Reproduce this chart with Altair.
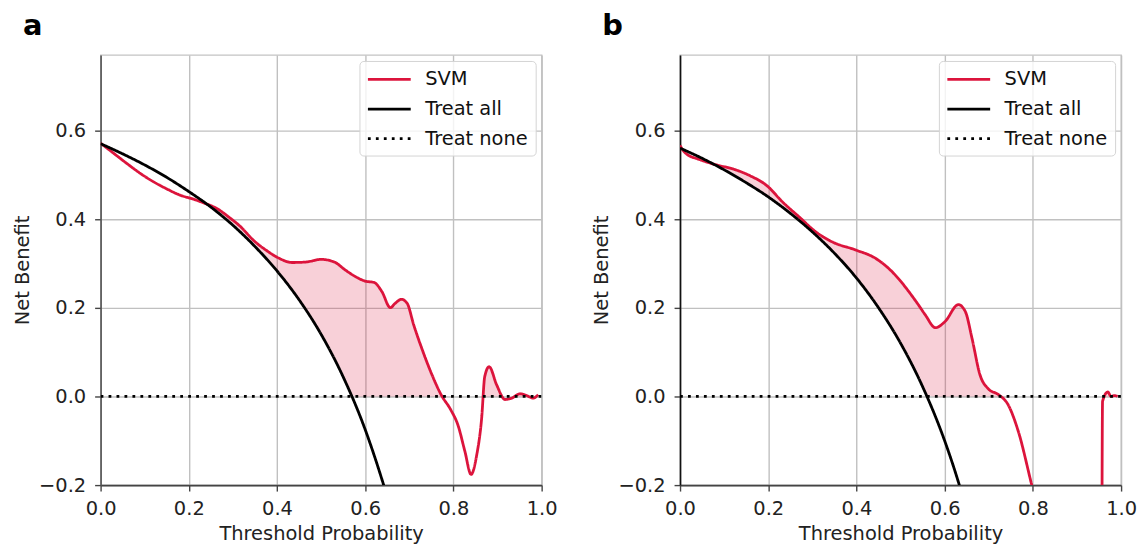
import altair as alt
import numpy as np
import pandas as pd

FONT = "DejaVu Sans"

# ---------------- Panel a ----------------
a_svm_t = [0.0, 0.03, 0.06, 0.09, 0.12, 0.15, 0.18, 0.21, 0.235, 0.265, 0.29, 0.315,
           0.35, 0.375, 0.40, 0.435, 0.465, 0.50, 0.53, 0.555, 0.578, 0.60, 0.62,
           0.638, 0.657, 0.668, 0.682, 0.695, 0.71, 0.728, 0.75, 0.772, 0.795, 0.81,
           0.826, 0.84, 0.853, 0.864, 0.871, 0.881, 0.898, 0.917, 0.932, 0.951,
           0.966, 0.981, 0.992]
a_svm_v = [0.571, 0.548, 0.525, 0.503, 0.484, 0.468, 0.454, 0.445, 0.436, 0.423, 0.405,
           0.385, 0.349, 0.330, 0.314, 0.302, 0.303, 0.309, 0.303, 0.285, 0.270, 0.260,
           0.257, 0.236, 0.200, 0.210, 0.219, 0.210, 0.161, 0.109, 0.052, 0.004,
           -0.032, -0.064, -0.124, -0.176, -0.131, -0.049, 0.045, 0.067, 0.026,
           -0.007, -0.004, 0.006, 0.002, -0.004, 0.004]
a_all_t = [0.0, 0.05, 0.1, 0.15, 0.2, 0.25, 0.3, 0.35, 0.4, 0.45, 0.5, 0.55, 0.6,
           0.62, 0.64, 0.66]
a_all_v = [0.570, 0.547, 0.522, 0.494, 0.462, 0.427, 0.386, 0.338, 0.283, 0.218,
           0.140, 0.044, -0.075, -0.132, -0.194, -0.26]

# ---------------- Panel b ----------------
b_svm_t = [0.0, 0.012, 0.045, 0.083, 0.12, 0.158, 0.196, 0.233, 0.271, 0.308, 0.346,
           0.399, 0.444, 0.481, 0.50, 0.519, 0.538, 0.556, 0.579, 0.601, 0.631, 0.647,
           0.662, 0.68, 0.699, 0.722, 0.744, 0.767, 0.797, 0.82, 0.86, 0.954, 0.958,
           0.97, 0.977, 0.985, 0.992]
b_svm_v = [0.566, 0.549, 0.534, 0.522, 0.513, 0.498, 0.476, 0.438, 0.404, 0.371,
           0.348, 0.330, 0.311, 0.281, 0.260, 0.236, 0.210, 0.184, 0.155, 0.169,
           0.207, 0.191, 0.131, 0.049, 0.017, 0.004, -0.019, -0.079, -0.198, -0.29,
           -1.0, -1.0, -0.011, 0.010, 0.0, 0.002, 0.0]
b_all_t = [0.0, 0.05, 0.1, 0.15, 0.2, 0.25, 0.3, 0.35, 0.4, 0.45, 0.5, 0.55, 0.6,
           0.62, 0.64]
b_all_v = [0.560, 0.537, 0.511, 0.482, 0.450, 0.413, 0.371, 0.323, 0.267, 0.200,
           0.120, 0.022, -0.100, -0.158, -0.222]

none_t = [0.0, 1.0]
none_v = [0.0, 0.0]

series_names = ["SVM", "Treat all", "Treat none"]
series_colors = ["#DC143C", "#000000", "#000000"]
series_dashes = [[1, 0], [1, 0], [2.8, 5.2]]

x_ticks = [0.0, 0.2, 0.4, 0.6, 0.8, 1.0]
y_ticks = [-0.2, 0.0, 0.2, 0.4, 0.6]
x_domain = [0.0, 1.0]
y_domain = [-0.2, 0.77]

W, H = 443, 432


def panel(label, svm_t, svm_v, all_t, all_v, left_axis_color):
    lines = pd.DataFrame({
        "t": svm_t + all_t + none_t,
        "v": svm_v + all_v + none_v,
        "series": (["SVM"] * len(svm_t) + ["Treat all"] * len(all_t)
                   + ["Treat none"] * len(none_t)),
    })
    st = np.array(svm_t)
    sv = np.array(svm_v)
    lower = np.maximum(np.interp(st, all_t, all_v), 0.0)
    upper = np.maximum(sv, lower)
    band = pd.DataFrame({"t": st, "lo": lower, "hi": upper})

    xs = alt.Scale(domain=x_domain, nice=False, zero=False)
    ys = alt.Scale(domain=y_domain, nice=False, zero=False)
    xaxis = alt.Axis(values=x_ticks, format=".1f", title="Threshold Probability",
                     domainColor="#444444", tickColor="#444444", labelFlush=False)
    yaxis = alt.Axis(values=y_ticks, format=".1f", title="Net Benefit",
                     domainColor=left_axis_color, tickColor="#444444", labelFlush=False)

    area = alt.Chart(band).mark_area(
        color="#DC143C", opacity=0.2, interpolate="monotone", clip=True
    ).encode(
        x=alt.X("t:Q", scale=xs, axis=xaxis),
        y=alt.Y("hi:Q", scale=ys, axis=yaxis),
        y2="lo:Q",
    )

    leg = alt.Legend(
        title=None, orient="top-right", offset=6,
        symbolType="M-1,0H3.3", symbolSize=400, symbolStrokeWidth=2.8,
        labelFontSize=19.5, labelFont=FONT, labelColor="#111111",
        labelOffset=36, rowPadding=8.8, padding=7, cornerRadius=4,
        strokeColor="#d4d4d4", fillColor="rgba(255,255,255,0.8)",
    )
    line = alt.Chart(lines).mark_line(
        strokeWidth=2.8, interpolate="monotone", clip=True, strokeCap="butt"
    ).encode(
        x=alt.X("t:Q", scale=xs),
        y=alt.Y("v:Q", scale=ys),
        color=alt.Color("series:N", scale=alt.Scale(domain=series_names,
                                                     range=series_colors),
                        legend=leg, sort=series_names),
        strokeDash=alt.StrokeDash("series:N",
                                  scale=alt.Scale(domain=series_names,
                                                  range=series_dashes),
                                  legend=leg, sort=series_names),
    )

    return alt.layer(area, line).properties(
        width=W, height=H,
        title=alt.TitleParams(label, anchor="start", frame="group", fontSize=29,
                              fontWeight="bold", font=FONT, color="#000000",
                              dx=-78, offset=-9, baseline="alphabetic"),
    )


pa = panel("a", a_svm_t, a_svm_v, a_all_t, a_all_v, "#555555")
pb = panel("b", b_svm_t, b_svm_v, b_all_t, b_all_v, "#111111")

chart = alt.hconcat(pa, pb, spacing=139, bounds="flush").resolve_legend(
    color="independent", strokeDash="independent"
).resolve_scale(color="independent", strokeDash="independent").properties(
    padding={"left": 3, "top": 2, "right": 2, "bottom": 5}
).configure_view(
    stroke="#c4c4c4", strokeWidth=1.4
).configure_axis(
    labelFont=FONT, titleFont=FONT, labelFontSize=19.5, titleFontSize=19.5,
    labelColor="#222222", titleColor="#222222", titleFontWeight="normal",
    gridColor="#c0c0c0", gridWidth=1.4, domainWidth=1.6, tickWidth=1.4,
    tickSize=6, labelPadding=9, titlePadding=6,
)

chart.save("out.html", embed_options={"renderer": "svg", "actions": False})
